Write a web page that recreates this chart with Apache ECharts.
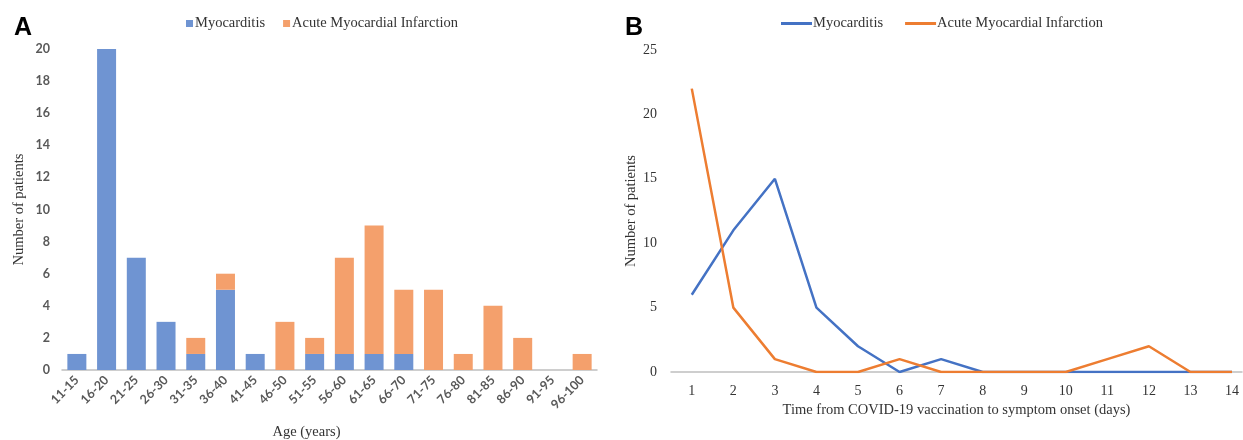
<!DOCTYPE html>
<html><head><meta charset="utf-8">
<script src="https://cdn.jsdelivr.net/npm/echarts@6/dist/echarts.min.js"></script>
<style>html,body{margin:0;padding:0;background:#fff}#c{width:1243px;height:440px}</style>
</head><body><div id="c"></div>
<script>
const ageGroups = ['11-15','16-20','21-25','26-30','31-35','36-40','41-45','46-50','51-55','56-60','61-65','66-70','71-75','76-80','81-85','86-90','91-95','96-100'];
const myoByAge = [1,20,7,3,1,5,1,0,1,1,1,1,0,0,0,0,0,0];
const amiByAge = [0,0,0,0,1,1,0,3,1,6,8,4,5,1,4,2,0,1];
const days = [1,2,3,4,5,6,7,8,9,10,11,12,13,14];
const myoByDay = [6,11,15,5,2,0,1,0,0,0,0,0,0,0];
const amiByDay = [22,5,1,0,0,1,0,0,0,0,1,2,0,0];
const yTicksA = {min:0, max:20, interval:2};
const yTicksB = {min:0, max:25, interval:5};

const serif = '"Liberation Serif", "Times New Roman", serif';
const sans = 'Lato, "Liberation Sans", sans-serif';
const barBlue = '#6f94d2', barOrange = '#f4a06c';
const lineBlue = '#4472c4', lineOrange = '#ed7d31';

const pairs = (xs, ys) => xs.map((x, i) => [x, ys[i]]);

const chart = echarts.init(document.getElementById('c'), null, {renderer:'canvas'});
chart.setOption({
  animation:false,
  title:[
    {text:'A', left:9, top:11, textStyle:{fontFamily:'"Liberation Sans", Arial, sans-serif', fontSize:25, fontWeight:'bold', color:'#000'}},
    {text:'B', left:620, top:11, textStyle:{fontFamily:'"Liberation Sans", Arial, sans-serif', fontSize:25, fontWeight:'bold', color:'#000'}}
  ],
  legend:[
    {left:181, top:11, itemGap:18, itemWidth:7, itemHeight:7,
     textStyle:{fontFamily:serif, fontSize:14.5, color:'#333', padding:[0,0,0,-3]},
     data:[{name:'Myocarditis', icon:'rect', itemStyle:{color:barBlue}},
           {name:'Acute Myocardial Infarction', icon:'rect', itemStyle:{color:barOrange}}],
     selectedMode:false},
    {left:776, top:11, itemGap:22, itemWidth:31, itemHeight:3,
     textStyle:{fontFamily:serif, fontSize:14.5, color:'#333', padding:[0,0,0,-4]},
     data:[{name:'Myocarditis', icon:'rect', itemStyle:{color:lineBlue}},
           {name:'Acute Myocardial Infarction', icon:'rect', itemStyle:{color:lineOrange}}],
     selectedMode:false}
  ],
  grid:[
    {left:62, width:535, top:49, height:321, outerBoundsMode:'none', containLabel:false},
    {left:671, width:571, top:50, height:322, outerBoundsMode:'none', containLabel:false}
  ],
  xAxis:[
    {type:'category', gridIndex:0, data:ageGroups,
     axisLine:{lineStyle:{color:'#bfbfbf', width:1.5}}, axisTick:{show:false},
     axisLabel:{rotate:45, interval:0, fontFamily:sans, fontSize:12.5, fontWeight:'bold', color:'#595959', margin:8},
     name:'Age (years)', nameLocation:'middle', nameGap:55,
     nameTextStyle:{fontFamily:serif, fontSize:14.5, color:'#333', padding:[0,46,0,0]}},
    {type:'value', gridIndex:1, min:0.5, max:14.24,
     splitLine:{show:false},
     axisLine:{onZero:false, lineStyle:{color:'#bfbfbf', width:1.5}}, axisTick:{show:false},
     axisLabel:{customValues:days, fontFamily:serif, fontSize:14, color:'#333', margin:12},
     name:'Time from COVID-19 vaccination to symptom onset (days)', nameLocation:'middle', nameGap:30,
     nameTextStyle:{fontFamily:serif, fontSize:14.5, color:'#333'}}
  ],
  yAxis:[
    {type:'value', gridIndex:0, min:yTicksA.min, max:yTicksA.max, interval:yTicksA.interval,
     splitLine:{show:false}, axisLine:{show:false}, axisTick:{show:false},
     axisLabel:{fontFamily:sans, fontSize:12.5, fontWeight:'bold', color:'#595959', margin:12},
     name:'Number of patients', nameLocation:'middle', nameGap:35,
     nameTextStyle:{fontFamily:serif, fontSize:14.5, color:'#333'}},
    {type:'value', gridIndex:1, min:yTicksB.min, max:yTicksB.max, interval:yTicksB.interval,
     splitLine:{show:false}, axisLine:{show:false}, axisTick:{show:false},
     axisLabel:{fontFamily:serif, fontSize:14, color:'#333', margin:14},
     name:'Number of patients', nameLocation:'middle', nameGap:30,
     nameTextStyle:{fontFamily:serif, fontSize:14.5, color:'#333'}}
  ],
  series:[
    {name:'Myocarditis', type:'bar', xAxisIndex:0, yAxisIndex:0, stack:'age', data:myoByAge, barWidth:19, itemStyle:{color:barBlue}},
    {name:'Acute Myocardial Infarction', type:'bar', xAxisIndex:0, yAxisIndex:0, stack:'age', data:amiByAge, barWidth:19, itemStyle:{color:barOrange}},
    {name:'Myocarditis', type:'line', xAxisIndex:1, yAxisIndex:1, data:pairs(days, myoByDay), symbol:'none', lineStyle:{color:lineBlue, width:2.5}, itemStyle:{color:lineBlue}, z:2},
    {name:'Acute Myocardial Infarction', type:'line', xAxisIndex:1, yAxisIndex:1, data:pairs(days, amiByDay), symbol:'none', lineStyle:{color:lineOrange, width:2.5}, itemStyle:{color:lineOrange}, z:3}
  ]
});
</script></body></html>
